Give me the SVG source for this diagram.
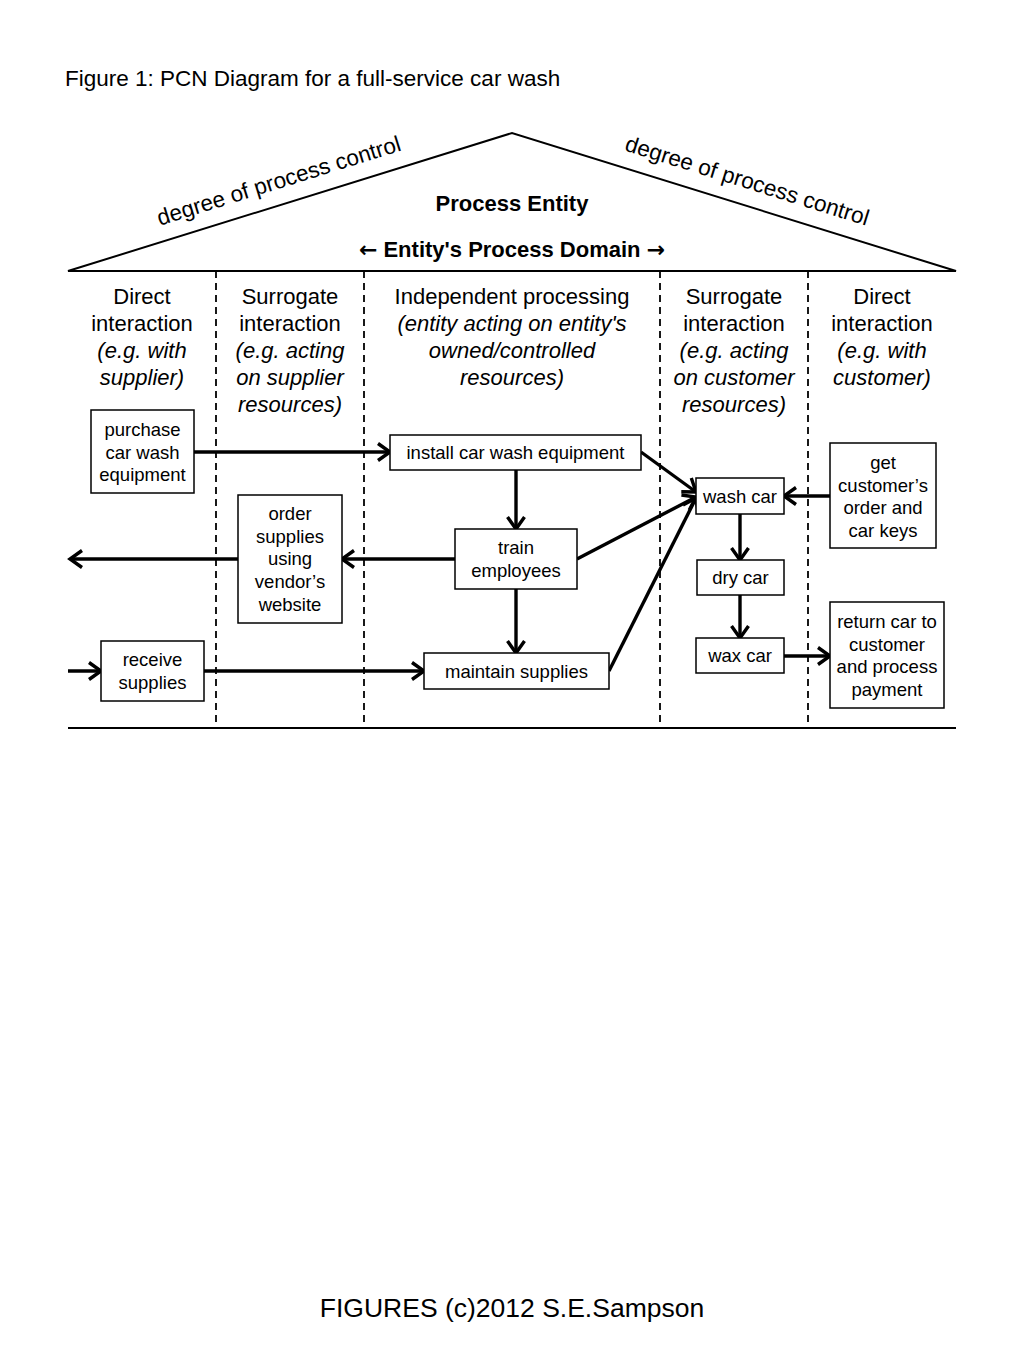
<svg xmlns="http://www.w3.org/2000/svg" width="1024" height="1365" viewBox="0 0 1024 1365">
<style>
text{font-family:"Liberation Sans",Arial,sans-serif;fill:#000}
.t{font-size:22.5px}
.h{font-size:22px;text-anchor:middle}
.hi{font-size:22px;text-anchor:middle;font-style:italic}
.d{font-size:22.5px;text-anchor:middle}
.b{font-size:22px;font-weight:bold;text-anchor:middle}
.ar{font-family:"DejaVu Sans",sans-serif;font-weight:bold}
.n{font-size:18.5px;text-anchor:middle}
.box{fill:#fff;stroke:#000;stroke-width:1.5}
.frame{fill:none;stroke:#000;stroke-width:2}
.dash{stroke:#000;stroke-width:1.8;stroke-dasharray:7,5}
.c{fill:none;stroke:#000;stroke-width:3.4;marker-end:url(#ah)}
</style>
<defs>
<marker id="ah" markerUnits="userSpaceOnUse" markerWidth="18" markerHeight="22" viewBox="0 0 18 22" refX="15" refY="11" orient="auto">
<path d="M3,2.5 L15,11 L3,19.5" fill="none" stroke="#000" stroke-width="3.4"/>
</marker>
</defs>
<rect width="1024" height="1365" fill="#fff"/>
<text class="t" x="65" y="86">Figure 1: PCN Diagram for a full-service car wash</text>

<g id="frame">
<path class="frame" d="M68,271 L512,133 L956,271 Z"/>
<line class="frame" x1="68" y1="728" x2="956" y2="728"/>
<line class="dash" x1="216" y1="271" x2="216" y2="728"/>
<line class="dash" x1="364" y1="271" x2="364" y2="728"/>
<line class="dash" x1="660" y1="271" x2="660" y2="728"/>
<line class="dash" x1="808" y1="271" x2="808" y2="728"/>
<text class="d" transform="translate(281,188) rotate(-17.3)">degree of process control</text>
<text class="d" transform="translate(745,188) rotate(17.3)">degree of process control</text>
<text class="b" x="512" y="211">Process Entity</text>
<text class="b" x="512" y="257"><tspan class="ar">←</tspan> Entity's Process Domain <tspan class="ar">→</tspan></text>
</g>

<g id="headers">
<text class="h" x="142" y="304">Direct</text>
<text class="h" x="142" y="331">interaction</text>
<text class="hi" x="142" y="358">(e.g. with</text>
<text class="hi" x="142" y="385">supplier)</text>
<text class="h" x="290" y="304">Surrogate</text>
<text class="h" x="290" y="331">interaction</text>
<text class="hi" x="290" y="358">(e.g. acting</text>
<text class="hi" x="290" y="385">on supplier</text>
<text class="hi" x="290" y="412">resources)</text>
<text class="h" x="512" y="304">Independent processing</text>
<text class="hi" x="512" y="331">(entity acting on entity's</text>
<text class="hi" x="512" y="358">owned/controlled</text>
<text class="hi" x="512" y="385">resources)</text>
<text class="h" x="734" y="304">Surrogate</text>
<text class="h" x="734" y="331">interaction</text>
<text class="hi" x="734" y="358">(e.g. acting</text>
<text class="hi" x="734" y="385">on customer</text>
<text class="hi" x="734" y="412">resources)</text>
<text class="h" x="882" y="304">Direct</text>
<text class="h" x="882" y="331">interaction</text>
<text class="hi" x="882" y="358">(e.g. with</text>
<text class="hi" x="882" y="385">customer)</text>
</g>

<g id="connectors">
<line class="c" x1="194" y1="452" x2="390" y2="452"/>
<line class="c" x1="641" y1="452" x2="696" y2="492"/>
<line class="c" x1="516" y1="470" x2="516" y2="529"/>
<line class="c" x1="455" y1="559" x2="342" y2="559"/>
<line class="c" x1="238" y1="559" x2="70" y2="559"/>
<line class="c" x1="577" y1="559" x2="696" y2="497"/>
<line class="c" x1="516" y1="589" x2="516" y2="653"/>
<line class="c" x1="68" y1="671" x2="101" y2="671"/>
<line class="c" x1="204" y1="671" x2="424" y2="671"/>
<line class="c" x1="609" y1="671" x2="696" y2="498"/>
<line class="c" x1="830" y1="496" x2="784" y2="496"/>
<line class="c" x1="740" y1="514" x2="740" y2="560"/>
<line class="c" x1="740" y1="595" x2="740" y2="638"/>
<line class="c" x1="784" y1="656" x2="830" y2="656"/>
</g>

<g id="purchase">
<rect class="box" x="91" y="410" width="103" height="83"/>
<text class="n" x="142.5" y="436">purchase</text>
<text class="n" x="142.5" y="459">car wash</text>
<text class="n" x="142.5" y="481">equipment</text>
</g>
<g id="install">
<rect class="box" x="390" y="435" width="251" height="35"/>
<text class="n" x="515.5" y="459">install car wash equipment</text>
</g>
<g id="order">
<rect class="box" x="238" y="495" width="104" height="128"/>
<text class="n" x="290" y="520">order</text>
<text class="n" x="290" y="543">supplies</text>
<text class="n" x="290" y="565">using</text>
<text class="n" x="290" y="588">vendor’s</text>
<text class="n" x="290" y="611">website</text>
</g>
<g id="train">
<rect class="box" x="455" y="529" width="122" height="60"/>
<text class="n" x="516" y="554">train</text>
<text class="n" x="516" y="577">employees</text>
</g>
<g id="receive">
<rect class="box" x="101" y="641" width="103" height="60"/>
<text class="n" x="152.5" y="666">receive</text>
<text class="n" x="152.5" y="689">supplies</text>
</g>
<g id="maintain">
<rect class="box" x="424" y="653" width="185" height="36"/>
<text class="n" x="516.5" y="678">maintain supplies</text>
</g>
<g id="wash">
<rect class="box" x="696" y="478" width="88" height="36"/>
<text class="n" x="740" y="503">wash car</text>
</g>
<g id="dry">
<rect class="box" x="697" y="560" width="87" height="35"/>
<text class="n" x="740.5" y="584">dry car</text>
</g>
<g id="wax">
<rect class="box" x="696" y="638" width="88" height="35"/>
<text class="n" x="740" y="662">wax car</text>
</g>
<g id="getorder">
<rect class="box" x="830" y="443" width="106" height="105"/>
<text class="n" x="883" y="469">get</text>
<text class="n" x="883" y="492">customer’s</text>
<text class="n" x="883" y="514">order and</text>
<text class="n" x="883" y="537">car keys</text>
</g>
<g id="return">
<rect class="box" x="830" y="602" width="114" height="106"/>
<text class="n" x="887" y="628">return car to</text>
<text class="n" x="887" y="651">customer</text>
<text class="n" x="887" y="673">and process</text>
<text class="n" x="887" y="696">payment</text>
</g>

<text x="512" y="1317" style="font-size:26.5px;text-anchor:middle">FIGURES (c)2012 S.E.Sampson</text>
</svg>
